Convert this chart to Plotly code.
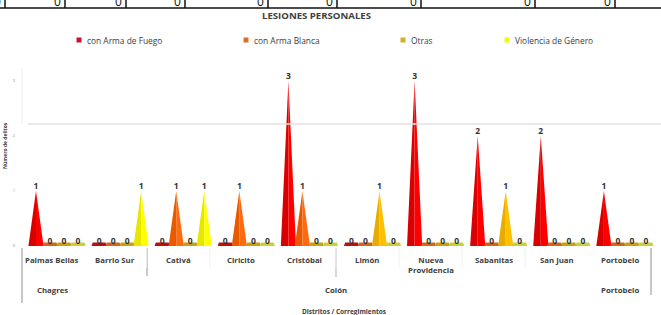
import plotly.graph_objects as go

# ---------------- data ----------------
categories = ["Palmas Bellas", "Barrio Sur", "Cativá", "Ciricito", "Cristóbal",
              "Limón", "Nueva<br>Providencia", "Sabanitas", "San Juan", "Portobelo"]
districts = ["Chagres", "Colón", "Portobelo"]
series_names = ["con Arma de Fuego", "con Arma Blanca", "Otras", "Violencia de Género"]
arma_fuego = [1, 0, 0, 0, 3, 0, 3, 2, 2, 1]
arma_blanca = [0, 0, 1, 1, 1, 0, 0, 0, 0, 0]
otras = [0, 0, 0, 0, 0, 1, 0, 1, 0, 0]
violencia = [0, 1, 1, 0, 0, 0, 0, 0, 0, 0]
y_ticks = [0, 1, 2, 3]
top_row_values = ["0"] * 9

series_values = [arma_fuego, arma_blanca, otras, violencia]
face_light = ["#FF0000", "#FF6A10", "#FFC000", "#FFFF00"]
face_dark = ["#D80000", "#E85A00", "#E8AC00", "#E6E600"]
zero_cols = ["#B81010", "#D0661E", "#C8A010", "#C8D040"]
legend_cols = ["#C8102E", "#D8702A", "#D2AE30", "#F4F410"]

FONT = "Open Sans"
TXT = "#404040"

# geometry (in axis units)
slot = 0.222
hw = 0.12
zero_h = 0.065

fig = go.Figure()

for s, vals in enumerate(series_values):
    off = (s - 1.5) * slot
    lx, ly, rx, ry, zx, zy = [], [], [], [], [], []
    for i, v in enumerate(vals):
        c = i + off
        if v > 0:
            lx += [c - hw, c, c, c - hw, None]
            ly += [0, v, 0, 0, None]
            rx += [c, c, c + hw, c, None]
            ry += [0, v, 0, 0, None]
        else:
            zx += [c - hw, c - hw * 0.85, c + hw * 0.85, c + hw, c - hw, None]
            zy += [0, zero_h, zero_h, 0, 0, None]
    for xs, ys, col in [(lx, ly, face_dark[s]), (rx, ry, face_light[s]), (zx, zy, zero_cols[s])]:
        if xs:
            fig.add_trace(go.Scatter(x=xs, y=ys, mode="lines", fill="toself",
                                     fillcolor=col, line=dict(width=0, color=col),
                                     hoverinfo="skip", showlegend=False))
    # data labels
    fig.add_trace(go.Scatter(
        x=[i + off for i in range(len(vals))], y=vals, mode="text",
        text=[f"<b>{v}</b>" for v in vals], textposition="top center",
        textfont=dict(family=FONT, size=8.5, color="#333333"),
        cliponaxis=False, showlegend=False, hoverinfo="skip"))

# ---------------- layout helpers (pixel -> paper) ----------------
L, R, T, B = 22, 1, 70, 69
W, H = 661, 315
PW, PH = W - L - R, H - T - B


def X(px):
    return (px - L) / PW


def Y(py):
    return (H - B - py) / PH


shapes = []
annotations = []

# gridline and back wall edge
shapes.append(dict(type="line", xref="paper", yref="paper", x0=X(28), x1=X(661),
                   y0=Y(124), y1=Y(124), line=dict(color="#E2E2E2", width=1.5)))
shapes.append(dict(type="line", xref="paper", yref="paper", x0=X(22), x1=X(22),
                   y0=Y(68), y1=Y(124), line=dict(color="#EEEEEE", width=1)))

# category dividers
for px_, y2, col, wd in [(22, 303, "#C8C8C8", 2), (147, 276, "#C8C8C8", 2),
                         (336, 277, "#C8C8C8", 1.5), (651, 295, "#C8C8C8", 2)]:
    shapes.append(dict(type="line", xref="paper", yref="paper", x0=X(px_), x1=X(px_),
                       y0=Y(248), y1=Y(y2), line=dict(color=col, width=wd)))
for k in [2, 3, 5, 6, 7, 8]:
    shapes.append(dict(type="line", xref="x", yref="paper", x0=k - 0.5 - 0.08, x1=k - 0.5 - 0.08,
                       y0=Y(248), y1=Y(268), line=dict(color="#F0F0F0", width=1)))

# category labels
for i, c in enumerate(categories):
    annotations.append(dict(x=i - 0.08, xref="x", y=Y(260) if "<br>" not in c else Y(265),
                            yref="paper", text=f"<b>{c}</b>", showarrow=False,
                            font=dict(family=FONT, size=7.8, color=TXT), xanchor="center",
                            yanchor="middle"))
# district labels
for name, px_ in zip(districts, [52, 336, 620]):
    annotations.append(dict(x=X(px_), xref="paper", y=Y(290), yref="paper",
                            text=f"<b>{name}</b>", showarrow=False, xanchor="center",
                            yanchor="middle", font=dict(family=FONT, size=7.8, color=TXT)))
# axis titles
annotations.append(dict(x=X(344), xref="paper", y=Y(311), yref="paper",
                        text="<b>Distritos / Corregimientos</b>", showarrow=False,
                        xanchor="center", yanchor="middle",
                        font=dict(family=FONT, size=6.5, color=TXT)))
annotations.append(dict(x=X(5), xref="paper", y=Y(146), yref="paper",
                        text="<b>Número de delitos</b>", showarrow=False, textangle=-90,
                        xanchor="center", yanchor="middle",
                        font=dict(family=FONT, size=5, color=TXT)))
# title
annotations.append(dict(x=X(316), xref="paper", y=Y(15), yref="paper",
                        text="<b>LESIONES PERSONALES</b>", showarrow=False,
                        xanchor="center", yanchor="middle",
                        font=dict(family=FONT, size=9.6, color=TXT)))
# legend
for name, col, px_ in zip(series_names, legend_cols, [79, 246, 403, 507]):
    shapes.append(dict(type="rect", xref="paper", yref="paper", x0=X(px_ - 2.5), x1=X(px_ + 2.5),
                       y0=Y(42.5), y1=Y(37.5), fillcolor=col, line=dict(width=0)))
    annotations.append(dict(x=X(px_ + 6), xref="paper", y=Y(40), yref="paper",
                            text=name, showarrow=False, xanchor="left", yanchor="middle",
                            font=dict(family=FONT, size=8.4, color=TXT)))

# cropped table row at the very top
shapes.append(dict(type="line", xref="paper", yref="paper", x0=X(0), x1=X(661),
                   y0=Y(8), y1=Y(8), line=dict(color="#111111", width=1.5)))
for v, sep in zip(top_row_values, [5, 65, 126, 185, 268, 337, 421, 535, 615]):
    shapes.append(dict(type="line", xref="paper", yref="paper", x0=X(sep), x1=X(sep),
                       y0=Y(0), y1=Y(8), line=dict(color="#111111", width=1.5)))
    annotations.append(dict(x=X(sep - 2), xref="paper", y=Y(1), yref="paper", text=v,
                            showarrow=False, xanchor="right", yanchor="middle",
                            font=dict(family=FONT, size=12, color="#111111")))

fig.update_layout(
    width=W, height=H,
    margin=dict(l=L, r=R, t=T, b=B),
    paper_bgcolor="white", plot_bgcolor="white",
    xaxis=dict(range=[-0.555, 9.556], showgrid=False, zeroline=False, showline=False,
               showticklabels=False, fixedrange=True),
    yaxis=dict(range=[0, 3.2], tickvals=y_ticks, ticktext=[str(t) for t in y_ticks],
               showgrid=False, zeroline=False, showline=False, ticks="",
               tickfont=dict(family=FONT, size=4, color="#888888"), ticklabelstandoff=6),
    shapes=shapes, annotations=annotations, showlegend=False,
)

fig.write_html("out.html", config={"displayModeBar": False},
               post_script="document.body.style.margin='0';document.body.style.overflow='hidden';")
